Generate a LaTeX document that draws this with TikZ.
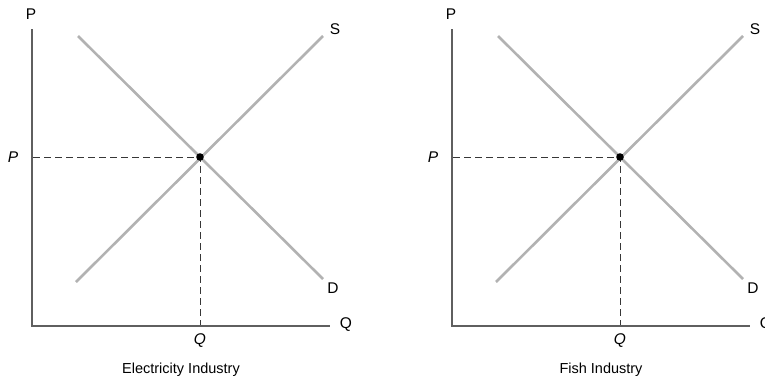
\documentclass[tikz,border=0pt]{standalone}
\usepackage{fontspec}
\setmainfont{Liberation Sans}
\definecolor{curvegray}{RGB}{178,178,178}
\definecolor{axisgray}{RGB}{95,95,95}
\definecolor{guidegray}{RGB}{55,55,55}
\begin{document}
\begin{tikzpicture}[x=1pt, y=-1pt, every node/.style={font=\fontsize{15.5}{18}\selectfont, inner sep=0pt},
  curve/.style={curvegray, line width=2.6pt},
  axisline/.style={axisgray, line width=1.2pt},
  guide/.style={guidegray, line width=0.9pt, dash pattern=on 6.5pt off 4.5pt}]
  \useasboundingbox (0,0) rectangle (765,381);
  \foreach \ox/\title in {0/Electricity Industry, 420/Fish Industry} {
    \begin{scope}[shift={(\ox,0)}]
      % supply and demand
      \draw[curve] (78,36) -- (323,279);
      \draw[curve] (76,282) -- (323,36);
      \draw[guide] (33,157) -- (200,157) -- (200,326);
      \draw[axisline] (32,29) -- (32,326) -- (330,326);
      \fill (200,157) circle (3.8);
      \node (ptop) at (31,14) {P};
      \node (qend) at (346,325) {Q};
      \node (peq) at (13,157) {\itshape P};
      \node (qeq) at (200,341) {\itshape Q};
      \node (slab) at (335,29) {S};
      \node (dlab) at (333,288) {D};
      \node[font=\fontsize{14.5}{17}\selectfont] (title) at (181,370) {\title};
    \end{scope}
  }
\end{tikzpicture}
\end{document}
